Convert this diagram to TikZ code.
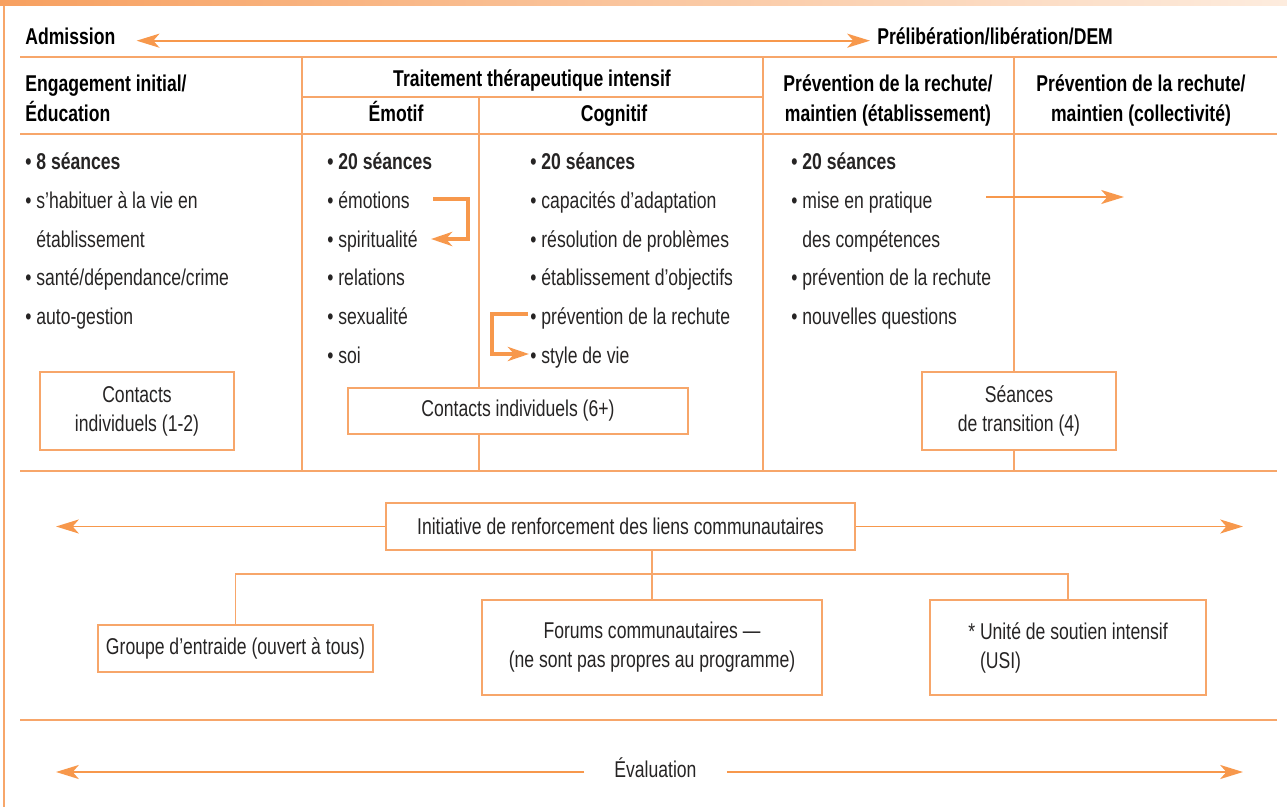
\documentclass[tikz,border=0pt]{standalone}
\usepackage{fontspec}
\setmainfont{Liberation Sans}[FakeStretch=0.77]
\usetikzlibrary{arrows.meta,positioning}
\definecolor{orangelinie}{RGB}{247,166,106}
\definecolor{orangepfeil}{RGB}{247,152,76}
\definecolor{textgrau}{RGB}{38,36,36}
\newcommand{\schrift}{\fontsize{13pt}{16.5pt}\selectfont}
\tikzset{
  linie/.style={draw=orangelinie, line width=0.85pt},
  pfeil/.style={draw=orangepfeil, line width=1.1pt, -{Stealth[length=13pt, width=8pt, inset=3.5pt]}},
  doppel/.style={draw=orangepfeil, line width=1.1pt, {Stealth[length=13pt, width=8pt, inset=3.5pt]}-{Stealth[length=13pt, width=8pt, inset=3.5pt]}},
  dickpfeil/.style={draw=orangepfeil, line width=2.3pt, -{Stealth[length=12pt, width=8pt, inset=3.5pt]}},
  kasten/.style={draw=orangelinie, line width=1.1pt, fill=white, inner sep=0pt, text=textgrau, align=center},
  punkt/.style={anchor=base west, inner sep=0pt, text=textgrau},
  kopf/.style={inner sep=0pt, text=black, font=\schrift\bfseries},
}
\begin{document}
\begin{tikzpicture}[x=0.02cm, y=-0.02cm, font=\schrift]
  \useasboundingbox (0,0) rectangle (1287,807);
  % Balken oben
  \shade[left color={rgb,255:red,247;green,160;blue,96}, right color={rgb,255:red,253;green,236;blue,222}] (0,0) rectangle (1287,6);
  \draw[linie] (4,6) -- (4,807);
  % Tabelle
  \draw[linie] (20,57) -- (1277,57);
  \draw[linie] (302,97) -- (763,97);
  \draw[linie] (20,134) -- (1277,134);
  \draw[linie] (20,471) -- (1277,471);
  \draw[linie] (20,720) -- (1277,720);
  \foreach \x in {302,763,1014}
    \draw[linie] (\x,57) -- (\x,471);
  \draw[linie] (479,97) -- (479,471);
  % Admission / Praeliberation
  \node[kopf, anchor=base west, text height=4.9pt, text depth=0pt] (adm) at (25,45) {Admission};
  \node[kopf, anchor=base west, text height=4.9pt, text depth=0pt] (prel) at (877,45) {Prélibération/libération/DEM};
  \draw[doppel] ([xshift=0.42cm]adm.east) -- ([xshift=-0.14cm]prel.west);
  % Spaltenkoepfe
  \node[kopf, anchor=base west] (h1a) at (25,92) {Engagement initial/};
  \node[kopf, anchor=base west] (h1b) at (25,122) {Éducation};
  \node[kopf, anchor=base] (h2) at (532,87) {Traitement thérapeutique intensif};
  \node[kopf, anchor=base] (h2a) at (396,122) {Émotif};
  \node[kopf, anchor=base] (h2b) at (614,122) {Cognitif};
  \node[kopf, anchor=base] (h4a) at (888,92) {Prévention de la rechute/};
  \node[kopf, anchor=base] (h4b) at (888,122) {maintien (établissement)};
  \node[kopf, anchor=base] (h5a) at (1141,92) {Prévention de la rechute/};
  \node[kopf, anchor=base] (h5b) at (1141,122) {maintien (collectivité)};
  % Listen
  \foreach \t [count=\i from 0] in {{\textbf{• 8 séances}}, {• s’habituer à la vie en}, {\phantom{• }établissement}, {• santé/dépendance/crime}, {• auto-gestion}}
    \node[punkt] (a\i) at (25,{170+38.6*\i}) {\t};
  \foreach \t [count=\i from 0] in {{\textbf{• 20 séances}}, {• émotions}, {• spiritualité}, {• relations}, {• sexualité}, {• soi}}
    \node[punkt] (b\i) at (327,{170+38.6*\i}) {\t};
  \foreach \t [count=\i from 0] in {{\textbf{• 20 séances}}, {• capacités d’adaptation}, {• résolution de problèmes}, {• établissement d’objectifs}, {• prévention de la rechute}, {• style de vie}}
    \node[punkt] (c\i) at (530,{170+38.6*\i}) {\t};
  \foreach \t [count=\i from 0] in {{\textbf{• 20 séances}}, {• mise en pratique}, {\phantom{• }des compétences}, {• prévention de la rechute}, {• nouvelles questions}}
    \node[punkt] (d\i) at (791,{170+38.6*\i}) {\t};
  % Pfeile in den Spalten
  \coordinate (e1) at (433,199);
  \coordinate (e2) at (431,239);
  \draw[dickpfeil] (e1) -- ++(35,0) |- (e2);
  \coordinate (f1) at (528,314);
  \coordinate (f2) at (529,354);
  \draw[dickpfeil] (f1) -- ++(-36,0) |- (f2);
  \coordinate (g1) at (986,197);
  \coordinate (g2) at (1124,197);
  \draw[pfeil] (g1) -- (g2);
  % Kontakte
  \node[kasten, minimum width=3.88cm, minimum height=1.56cm] (k12) at (137,411) {Contacts\\individuels (1-2)};
  \node[kasten, minimum width=6.8cm, minimum height=0.92cm] (k6) at (518,411) {Contacts individuels (6+)};
  \node[kasten, minimum width=3.88cm, minimum height=1.56cm] (ktr) at (1019,411) {Séances\\de transition (4)};
  % Initiative
  \node[kasten, minimum width=9.38cm, minimum height=0.94cm] (init) at (620.5,526.5) {Initiative de renforcement des liens communautaires};
  \coordinate (il) at (56,526.5);
  \coordinate (ir) at (1243,526.5);
  \draw[pfeil] (init.west) -- (il);
  \draw[pfeil] (init.east) -- (ir);
  \node[kasten, minimum width=5.5cm, minimum height=0.94cm] (grp) at (235.5,648.5) {Groupe d’entraide (ouvert à tous)};
  \node[kasten, minimum width=6.8cm, minimum height=1.9cm] (forum) at (652,647.5) {Forums communautaires —\\(ne sont pas propres au programme)};
  \node[kasten, minimum width=5.52cm, minimum height=1.9cm, align=left] (usi) at (1068,647.5) {* Unité de soutien intensif\\\phantom{* }(USI)};
  \coordinate (ast) at (652,574);
  \draw[linie] (forum.north) -- (forum.north |- init.south);
  \draw[linie] (grp.north) -- (grp.north |- ast) -- (usi.north |- ast) -- (usi.north);
  % Evaluation
  \node[punkt, anchor=west, text height=5.7pt, text depth=0pt, inner xsep=0.6cm] (eval) at (584,772) {Évaluation};
  \coordinate (vl) at (56,772);
  \coordinate (vr) at (1243,772);
  \draw[pfeil] (eval.west) -- (vl);
  \draw[pfeil] (eval.east) -- (vr);
\end{tikzpicture}
\end{document}
